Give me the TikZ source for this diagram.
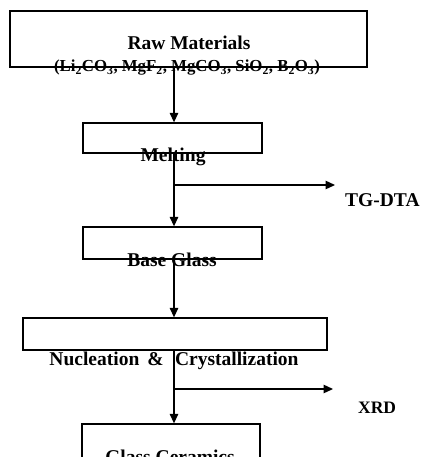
\documentclass[tikz,border=0pt]{standalone}
\usepackage{fontspec}
\setmainfont{Liberation Serif}
\usetikzlibrary{arrows.meta}
\tikzset{
  box/.style={draw=black, line width=1.3pt, inner sep=0pt, fill=none},
  lbl/.style={inner sep=0pt, anchor=base, font=\bfseries\fontsize{19.5}{22}\selectfont},
  sublbl/.style={inner sep=0pt, anchor=base, font=\bfseries\fontsize{16.8}{19}\selectfont},
  arr/.style={line width=1.3pt, -{Triangle[length=9.5pt,width=8.5pt]}},
}
\begin{document}
\begin{tikzpicture}[x=1pt,y=-1pt]
\useasboundingbox (0,0) rectangle (420,457);
\clip (0,0) rectangle (420,457);
\fill[white] (0,0) rectangle (420,457);
% boxes
\node[box, minimum width=357pt, minimum height=56pt] (raw) at (188.5,39) {};
\node[box, minimum width=179pt, minimum height=30pt] (melt) at (172.5,138) {};
\node[box, minimum width=179pt, minimum height=32pt] (base) at (172.5,243) {};
\node[box, minimum width=304pt, minimum height=32pt] (nucl) at (175,334) {};
\node[box, minimum width=178pt, minimum height=50pt] (gc) at (171,449) {};
% texts
\node[lbl] (rawt) at (189,50) {Raw Materials};
\node[sublbl] (rawsub) at (187,72) {(Li\textsubscript{2}CO\textsubscript{3}, MgF\textsubscript{2}, MgCO\textsubscript{3}, SiO\textsubscript{2}, B\textsubscript{2}O\textsubscript{3})};
\node[lbl] (meltt) at (173,161) {Melting};
\node[lbl] (baset) at (172,266) {Base Glass};
\node[lbl] (nuclt) at (174,365) {Nucleation \,\&\,\, Crystallization};
\node[lbl] (gct) at (170,463) {Glass Ceramics};
\node[lbl, anchor=base west] (tgdta) at (345,206) {TG-DTA};
\node[lbl, anchor=base west, font=\bfseries\fontsize{17.5}{19}\selectfont] (xrd) at (358,413) {XRD};
% connector geometry
\coordinate (ax) at (174,0);
\coordinate (br1) at (174,185);
\coordinate (br1e) at (335,185);
\coordinate (br2) at (174,389);
\coordinate (br2e) at (333,389);
% connectors
\draw[arr] (raw.south -| ax) -- (melt.north -| ax);
\draw[arr] (melt.south -| ax) -- (base.north -| ax);
\draw[arr] (br1) -- (br1e);
\draw[arr] (base.south -| ax) -- (nucl.north -| ax);
\draw[arr] (nucl.south -| ax) -- (gc.north -| ax);
\draw[arr] (br2) -- (br2e);
\end{tikzpicture}
\end{document}
